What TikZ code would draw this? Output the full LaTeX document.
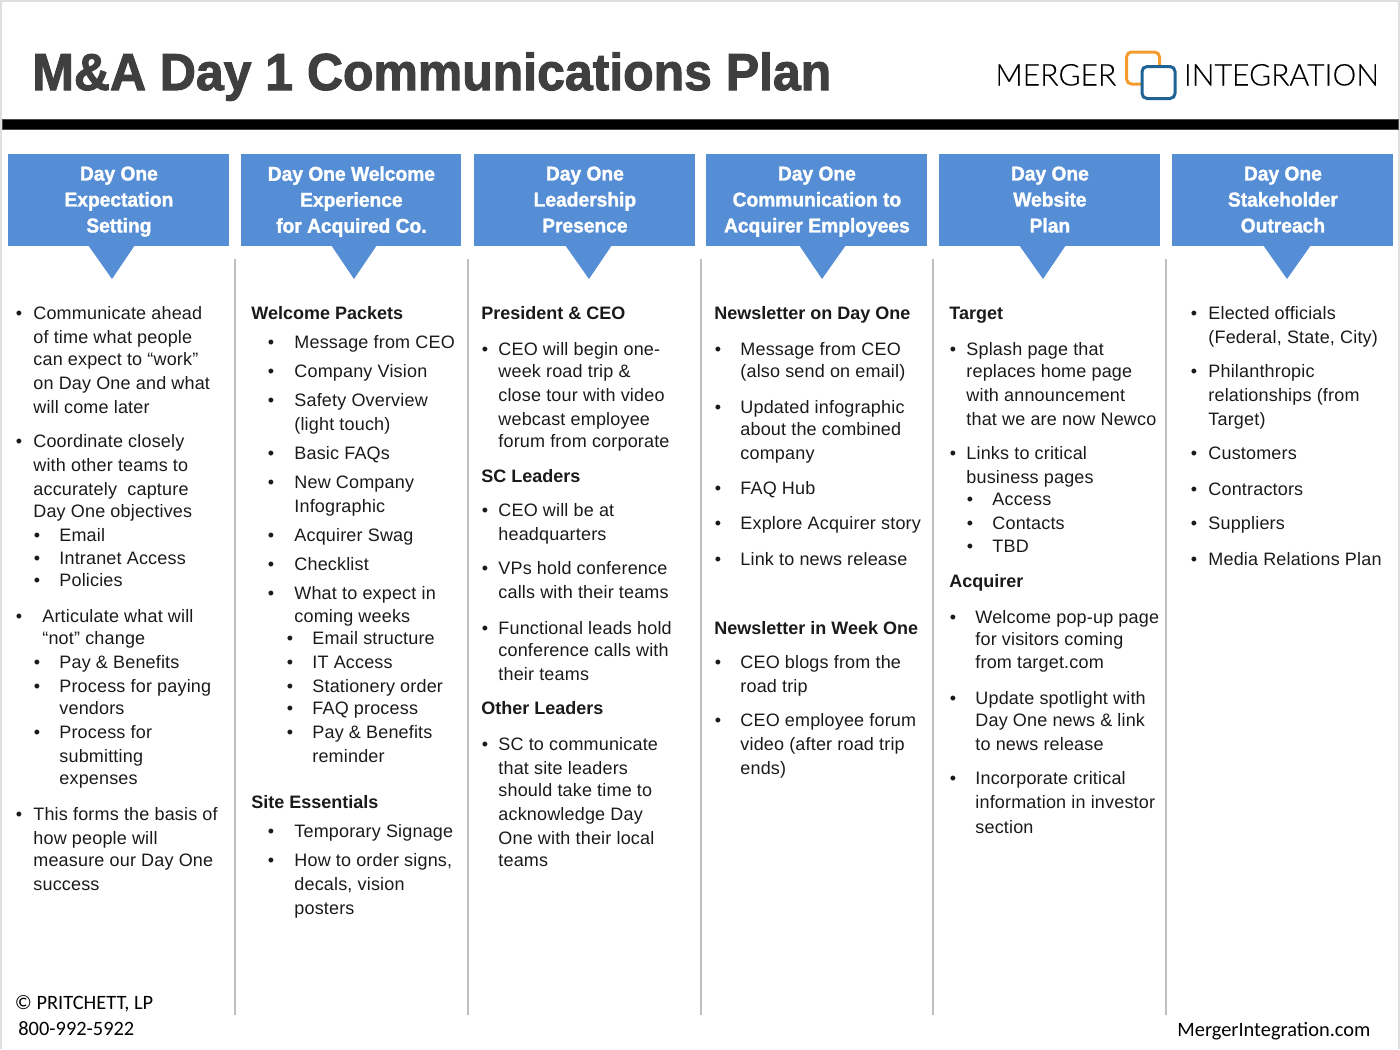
\documentclass[tikz,border=0pt]{standalone}
\usepackage{fontspec}
\setmainfont{Liberation Sans}[LetterSpace=1.0,BoldFeatures={LetterSpace=0}]
\newfontfamily\headfont{Liberation Sans}[FakeBold=1.5,FakeStretch=0.96]
\newfontfamily\titlefont{Liberation Sans}[FakeBold=2,FakeStretch=0.96]
\newfontfamily\logofont{Lato Light}[LetterSpace=0.3,FakeBold=0.3]
\newfontfamily\footfont{Carlito}
\usepackage{xcolor}
\usetikzlibrary{calc}

\definecolor{headblue}{HTML}{558ED5}
\definecolor{titlegray}{HTML}{3F3F3F}
\definecolor{rulegray}{HTML}{BFBFBF}
\definecolor{logoorange}{HTML}{F39C2D}
\definecolor{logoblue}{HTML}{1F6396}
\definecolor{bodyink}{HTML}{1A1A1A}

\tikzset{
  lineitem/.style={anchor=base west,inner sep=0pt,font=\fontsize{9}{9}\selectfont,text=bodyink},
  subhead/.style={lineitem,font=\fontsize{9}{9}\selectfont\bfseries},
  dotitem/.style={anchor=center,inner sep=0pt,yshift=-1pt,font=\fontsize{9}{9}\selectfont,text=bodyink},
  headbox/.style={anchor=north west,fill=headblue,inner sep=0pt,minimum height=46pt},
  headlabel/.style={anchor=center,inner sep=0pt,text=white,align=center,
    execute at begin node=\strut,execute at end node=\strut,
    font=\headfont\bfseries\fontsize{10}{13}\selectfont},
  footnote/.style={anchor=base west,inner sep=0pt,font=\footfont\fontsize{10.2}{10.2}\selectfont,text=black},
  logoword/.style={anchor=base west,inner sep=0pt,font=\logofont\fontsize{15}{15}\selectfont,text=black},
  logosquare/.style={line width=1.5pt,rounded corners=2.5pt}
}

\begin{document}
\begin{tikzpicture}[x=0.5pt,y=-0.5pt]

    \useasboundingbox (0,0) rectangle (1400,1049);

    % Frame and heavy rule
    \draw[gray!25,line width=1pt] (1,1049) -- (1,1) -- (1399,1) -- (1399,1049);
    \draw[fill=black,draw=black!70,line width=0.5pt] (2,119.5) rectangle (1398,129);

    % Title
    \node[anchor=base west,inner sep=0pt,text=titlegray,
      font=\titlefont\bfseries\fontsize{26}{26}\selectfont] (title) at (32,90) {M\&A Day 1 Communications Plan};

    % Logo
    \node[logoword] (merger) at (995,85.5) {MERGER};
    \node[logoword] (integration) at (1183.5,85.5) {INTEGRATION};
    \draw[logosquare,draw=logoorange] (1126.5,52) rectangle (1159.5,84);
    \draw[logosquare,draw=logoblue,fill=white] (1142,66.5) rectangle (1175,98.5);

    % Header boxes with their pointers
    \foreach \bx/\bw/\pl/\pa/\pr/\bt [count=\i] in {
      8/221/88/112/135/{Day One\\Expectation\\Setting},
      241/220/331/354/377/{Day One Welcome\\Experience\\for Acquired Co.},
      474/221/565/589/612/{Day One\\Leadership\\Presence},
      706/221/799/822/846/{Day One\\Communication to\\Acquirer Employees},
      939/221/1019/1043/1066/{Day One\\Website\\Plan},
      1172/221/1263/1287/1311/{Day One\\Stakeholder\\Outreach}} {
      \node[headbox,minimum width=\bw*0.5pt] (head\i) at (\bx,154) {};
      \fill[headblue] (\pl,245) -- (\pa,279) -- (\pr,245) -- cycle;
      \node[headlabel] (label\i) at ($(head\i.center)+(0,3)$) {\bt};
    }

    % Column rules
    \foreach \rx in {235,468,701,933,1166}
      \draw[rulegray,line width=1.25pt] (\rx,259) -- (\rx,1015);

    % Column 1
    \foreach \lx/\ly/\lt [count=\i] in {
      33/313/Communicate ahead, 33/337/of time what people, 33/359/can expect to “work”,
      33/383/on Day One and what, 33/407/will come later,
      33/441/Coordinate closely, 33/465/with other teams to, 33/489/accurately\ \ capture,
      33/511/Day One objectives, 59/535/Email, 59/558/Intranet Access, 59/580/Policies,
      42/616/Articulate what will, 42/638/“not” change,
      59/662/Pay \& Benefits, 59/686/Process for paying, 59/708/vendors,
      59/732/Process for, 59/756/submitting, 59/778/expenses,
      33/814/This forms the basis of, 33/838/how people will, 33/860/measure our Day One, 33/884/success}
      \node[lineitem] (onel\i) at (\lx,\ly+6) {\lt};
    \foreach \dx/\dy [count=\i] in {19/313,19/441,37/535,37/558,37/580,19/616,37/662,37/686,37/732,19/814}
      \node[dotitem] (oned\i) at (\dx,\dy) {•};

    % Column 2
    \node[subhead] (twoh1) at (251,319) {Welcome Packets};
    \node[subhead] (twoh2) at (251,808) {Site Essentials};
    \foreach \lx/\ly/\lt [count=\i] in {
      294/342/Message from CEO, 294/371/Company Vision, 294/400/Safety Overview, 294/424/(light touch),
      294/453/Basic FAQs, 294/482/New Company, 294/506/Infographic, 294/535/Acquirer Swag,
      294/564/Checklist, 294/593/What to expect in, 294/616/coming weeks,
      312/638/Email structure, 312/662/IT Access, 312/686/Stationery order, 312/708/FAQ process,
      312/732/Pay \& Benefits, 312/756/reminder,
      294/831/Temporary Signage, 294/860/{How to order signs,}, 294/884/{decals, vision}, 294/908/posters}
      \node[lineitem] (twol\i) at (\lx,\ly+6) {\lt};
    \foreach \dx/\dy [count=\i] in {271/342,271/371,271/400,271/453,271/482,271/535,271/564,271/593,
      290/638,290/662,290/686,290/708,290/732,271/831,271/860}
      \node[dotitem] (twod\i) at (\dx,\dy) {•};

    % Column 3
    \node[subhead] (threeh1) at (481,319) {President \& CEO};
    \node[subhead] (threeh2) at (481,482) {SC Leaders};
    \node[subhead] (threeh3) at (481,714) {Other Leaders};
    \foreach \ly/\lt [count=\i] in {
      349/CEO will begin one-, 371/week road trip \&, 395/close tour with video, 419/webcast employee,
      441/forum from corporate, 510/CEO will be at, 534/headquarters,
      568/VPs hold conference, 592/calls with their teams,
      628/Functional leads hold, 650/conference calls with, 674/their teams,
      744/SC to communicate, 768/that site leaders, 790/should take time to, 814/acknowledge Day,
      838/One with their local, 860/teams}
      \node[lineitem] (threel\i) at (498,\ly+6) {\lt};
    \foreach \dy [count=\i] in {349,510,568,628,744}
      \node[dotitem] (threed\i) at (485,\dy) {•};

    % Column 4
    \node[subhead] (fourh1) at (714,319) {Newsletter on Day One};
    \node[subhead] (fourh2) at (714,634) {Newsletter in Week One};
    \foreach \ly/\lt [count=\i] in {
      349/Message from CEO, 371/(also send on email), 407/Updated infographic, 429/about the combined,
      453/company, 488/FAQ Hub, 523/Explore Acquirer story, 559/Link to news release,
      662/CEO blogs from the, 686/road trip, 720/CEO employee forum, 744/video (after road trip, 768/ends)}
      \node[lineitem] (fourl\i) at (740,\ly+6) {\lt};
    \foreach \dy [count=\i] in {349,407,488,523,559,662,720}
      \node[dotitem] (fourd\i) at (718,\dy) {•};

    % Column 5
    \node[subhead] (fiveh1) at (949,319) {Target};
    \node[subhead] (fiveh2) at (949,587) {Acquirer};
    \foreach \lx/\ly/\lt [count=\i] in {
      966/349/Splash page that, 966/371/replaces home page, 966/395/with announcement,
      966/419/that we are now Newco, 966/453/Links to critical, 966/477/business pages,
      992/499/Access, 992/523/Contacts, 992/546/TBD,
      975/617/Welcome pop-up page, 975/639/for visitors coming, 975/662/from target.com,
      975/698/Update spotlight with, 975/720/Day One news \& link, 975/744/to news release,
      975/778/Incorporate critical, 975/802/information in investor, 975/827/section}
      \node[lineitem] (fivel\i) at (\lx,\ly+6) {\lt};
    \foreach \dx/\dy [count=\i] in {953/349,953/453,970/499,970/523,970/546,953/617,953/698,953/778}
      \node[dotitem] (fived\i) at (\dx,\dy) {•};

    % Column 6
    \foreach \ly/\lt [count=\i] in {
      313/Elected officials, 337/{(Federal, State, City)}, 371/Philanthropic, 395/relationships (from,
      419/Target), 453/Customers, 489/Contractors, 523/Suppliers, 559/Media Relations Plan}
      \node[lineitem] (sixl\i) at (1208,\ly+6) {\lt};
    \foreach \dy [count=\i] in {313,371,453,489,523,559}
      \node[dotitem] (sixd\i) at (1194,\dy) {•};

    % Footer
    \node[footnote] (copyright) at (14.5,1009.5) {© PRITCHETT, LP};
    \node[footnote] (phone) at (18,1035.5) {800-992-5922};
    \node[footnote] (site) at (1177,1036.5) {MergerIntegration.com};

\end{tikzpicture}
\end{document}
